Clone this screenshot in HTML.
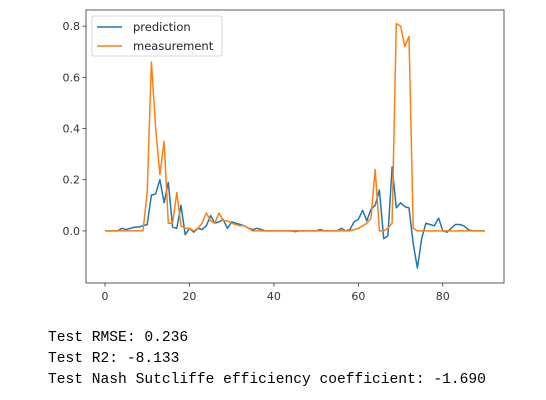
<!DOCTYPE html>
<html><head><meta charset="utf-8"><style>
body{margin:0;background:#fff;width:546px;height:400px;overflow:hidden;position:relative}
svg{position:absolute;left:0;top:0}
.out{position:absolute;left:48px;font-family:"Liberation Mono","NanumGothic",monospace;font-size:14.6px;color:#000;white-space:pre}
</style></head><body>
<svg id="chart" width="546" height="310" font-family="'DejaVu Sans','Liberation Sans',sans-serif"></svg>
<div class="out" style="top:330px">Test RMSE: 0.236</div>
<div class="out" style="top:351px">Test R2: -8.133</div>
<div class="out" style="top:372px">Test Nash Sutcliffe efficiency coefficient: -1.690</div>
<script>
const xTicks=[0,20,40,60,80];
const yTicks=[0.0,0.2,0.4,0.6,0.8];
const yTickLabels=["0.0","0.2","0.4","0.6","0.8"];
const prediction=[0,0,0,0,0.01,0.005,0.01,0.015,0.015,0.02,0.025,0.14,0.145,0.2,0.11,0.19,0.015,0.01,0.1,-0.015,0.01,-0.005,0.01,0.005,0.02,0.06,0.03,0.035,0.045,0.01,0.035,0.03,0.025,0.02,0.01,0.005,0.01,0.005,0,0,0,0,0,0,0,-0.003,0,0,0,0,0,0.005,0,0,0,0,0.01,0,0.005,0.035,0.045,0.08,0.04,0.085,0.1,0.16,-0.03,-0.02,0.25,0.09,0.11,0.095,0.09,-0.05,-0.145,-0.03,0.03,0.025,0.02,0.05,0,-0.005,0.01,0.025,0.025,0.02,0.005,0,0,0,0];
const measurement=[0,0,0,0,0,0,0,0,0,0,0.15,0.66,0.4,0.22,0.35,0.03,0.03,0.15,0.02,0.01,0.01,0,0.01,0.03,0.07,0.04,0.03,0.07,0.04,0.04,0.03,0.025,0.02,0.02,0.01,0,0,0,0,0,0,0,0,0,0,0,0,0,0,0,0,0,0,0,0,0,0,0,0,0.005,0.01,0.02,0.03,0.05,0.24,0,0,0.01,0.03,0.81,0.8,0.72,0.76,0.01,0,0,0,0,0,0,0,0,0,0,0,0,0,0,0,0,0];
const NS="http://www.w3.org/2000/svg";
const svg=document.getElementById('chart');
const L=86,R=504,T=10,B=283;
const xMin=-4.5,xMax=94.5,yMin=-0.2035,yMax=0.863;
const sx=v=>L+(v-xMin)/(xMax-xMin)*(R-L);
const sy=v=>B-(v-yMin)/(yMax-yMin)*(B-T);
function mk(t,a){const e=document.createElementNS(NS,t);for(const k in a)e.setAttribute(k,a[k]);svg.appendChild(e);return e;}
function series(vals,color,name){
  const pts=vals.map((v,i)=>sx(i).toFixed(1)+","+sy(v).toFixed(1)).join(" ");
  const p=mk('polyline',{points:pts,fill:'none',stroke:color,'stroke-width':1.5,'stroke-linejoin':'round'});
  
  
}
series(prediction,'#1f77b4','prediction-line');
series(measurement,'#ff7f0e','measurement-line');
const frame=mk('rect',{x:L,y:T,width:R-L,height:B-T,fill:'none',stroke:'#333','stroke-width':0.8});


xTicks.forEach(v=>{
  const x=sx(v);
  mk('line',{x1:x,x2:x,y1:B,y2:B+3.5,stroke:'#333','stroke-width':0.8});
  const t=mk('text',{x:x,y:B+17,'text-anchor':'middle','font-size':11,fill:'#333'});
  t.textContent=String(v);
  
  
});
yTicks.forEach((v,i)=>{
  const y=sy(v);
  mk('line',{x1:L-3.5,x2:L,y1:y,y2:y,stroke:'#333','stroke-width':0.8});
  const t=mk('text',{x:L-6,y:y+4,'text-anchor':'end','font-size':11,fill:'#333'});
  t.textContent=yTickLabels[i];
  
  
});
const lg=mk('rect',{x:92,y:16,width:130,height:40,rx:2,fill:'#fff','fill-opacity':0.8,stroke:'#ccc','stroke-width':0.8});


[['prediction','#1f77b4',27],['measurement','#ff7f0e',46]].forEach(([n,c,y])=>{
  mk('line',{x1:97,x2:122,y1:y,y2:y,stroke:c,'stroke-width':1.5});
  const t=mk('text',{x:133,y:y+4,'font-size':11.5,fill:'#222'});
  t.textContent=n;
  
  
});
</script>
</body></html>
